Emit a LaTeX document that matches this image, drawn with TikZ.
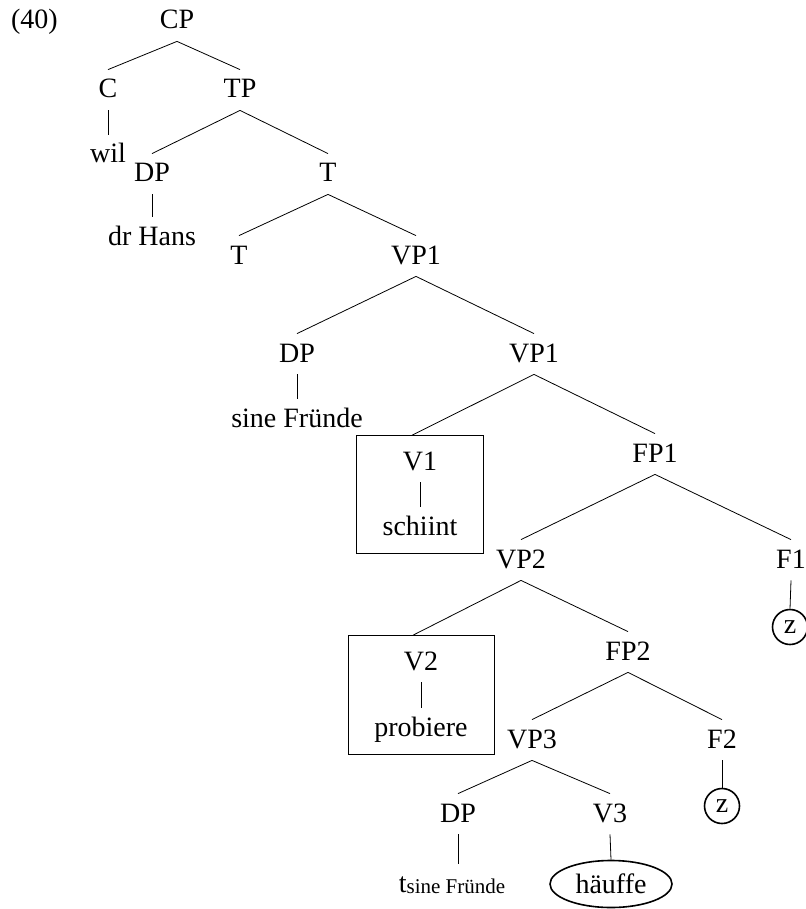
\documentclass[tikz,border=0pt]{standalone}
\usepackage{fontspec}
\setmainfont{Liberation Serif}
\usetikzlibrary{fit,positioning}
\usetikzlibrary{shapes.geometric}
\tikzset{
    every node/.style={font=\fontsize{14}{17}\selectfont}, % text size of the tree
    lbl/.style={anchor=base, text height=10.8pt, text depth=2.8pt,
        inner xsep=2pt, inner ysep=3.2pt}, % one label of the tree
    vbox/.style={draw, inner xsep=11pt, inner ysep=3pt}, % box round a verb
    zcirc/.style={draw, circle, line width=0.8pt, inner sep=0pt,
        minimum size=17.5pt}, % ring round z
    vell/.style={draw, ellipse, line width=0.8pt, inner sep=0pt,
        minimum width=61pt, minimum height=23.5pt}, % ring round the verb
}
\newcommand{\subtxt}[1]{{\fontsize{10.5}{12}\selectfont\raisebox{-0.5pt}{#1}}}

\begin{document}
\begin{tikzpicture}[x=0.5pt,y=-0.5pt]
  \useasboundingbox (0,0) rectangle (805,909);

  \node[anchor=base west] (ex) at (4,29) {(40)};

  % top of the tree
  \node[lbl] (cp)   at (177,29)  {CP};
  \node[lbl] (c)    at (108,98)  {C};
  \node[lbl] (tp)   at (240,98)  {TP};
  \node[lbl] (wil)  at (108,163) {wil};
  \node[lbl] (dp_1) at (152,182) {DP};
  \node[lbl] (t_1)  at (328,182) {T};
  \node[lbl] (hans) at (152,245) {dr Hans};
  \node[lbl] (t_2)  at (239,264) {T};
  \node[lbl] (vp_1) at (416,264) {VP1};
  \node[lbl] (dp_2) at (297,362) {DP};
  \node[lbl] (vp_b) at (534,362) {VP1};
  \node[lbl] (fr)   at (297,427) {sine Fründe};

  % first verb in its box
  \node[lbl] (v_1)  at (420,470) {V1};
  \node[lbl] (schiint) at (420,535) {schiint};
  \node[vbox, fit=(v_1)(schiint)] (box_1) {};
  \node[lbl] (fp_1) at (655,462) {FP1};
  \node[lbl] (vp_2) at (521,568) {VP2};
  \node[lbl] (f_1)  at (791,568) {F1};
  \node[zcirc] (z_1) at (790,627) {z};

  % second verb in its box
  \node[lbl] (v_2)  at (421,670) {V2};
  \node[lbl] (prob) at (421,736) {probiere};
  \node[vbox, fit=(v_2)(prob)] (box_2) {};
  \node[lbl] (fp_2) at (628,660) {FP2};
  \node[lbl] (vp_3) at (532,748) {VP3};
  \node[lbl] (f_2)  at (722,748) {F2};
  \node[zcirc] (z_2) at (722,806) {z};
  \node[lbl] (dp_3) at (458,822) {DP};
  \node[lbl] (v_3)  at (610,822) {V3};
  \node[lbl] (trace) at (452,892) {t\subtxt{sine Fründe}};
  \node[vell] (hauf) at (611,884) {häuffe};

  \path[draw]
    (cp.south)   edge (c.north)
                 edge (tp.north)
    (c.south)    edge (wil.north)
    (tp.south)   edge (dp_1.north)
                 edge (t_1.north)
    (dp_1.south) edge (hans.north)
    (t_1.south)  edge (t_2.north)
                 edge (vp_1.north)
    (vp_1.south) edge (dp_2.north)
                 edge (vp_b.north)
    (dp_2.south) edge (fr.north)
    (vp_b.south) edge ([xshift=-4pt]box_1.north)
                 edge (fp_1.north)
    (v_1.south)  edge (schiint.north)
    (fp_1.south) edge (vp_2.north)
                 edge (f_1.north)
    (f_1.south)  edge (z_1.north)
    (vp_2.south) edge ([xshift=-4pt]box_2.north)
                 edge (fp_2.north)
    (v_2.south)  edge (prob.north)
    (fp_2.south) edge (vp_3.north)
                 edge (f_2.north)
    (f_2.south)  edge (z_2.north)
    (vp_3.south) edge (dp_3.north)
                 edge (v_3.north)
    (dp_3.south) edge (dp_3.south |- trace.north)
    (v_3.south)  edge (hauf.north);
\end{tikzpicture}
\end{document}
